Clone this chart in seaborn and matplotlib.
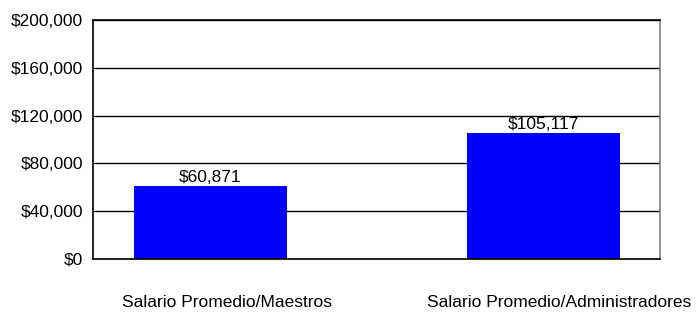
import matplotlib
matplotlib.use("Agg")
import matplotlib.pyplot as plt
import matplotlib.transforms as mtransforms
import seaborn as sns
import pandas as pd

categories = ["Salario Promedio/Maestros", "Salario Promedio/Administradores"]
salaries = [60871, 105117]
y_ticks = [0, 40000, 80000, 120000, 160000, 200000]

df = pd.DataFrame({"categoria": categories, "salario": salaries})

sns.set_style("white")
plt.rcParams["font.family"] = ["Liberation Sans", "DejaVu Sans"]
plt.rcParams["text.color"] = "black"
plt.rcParams["xtick.color"] = "black"
plt.rcParams["ytick.color"] = "black"

fig = plt.figure(figsize=(6.97, 3.15), dpi=100)
ax = fig.add_axes([0.1334, 0.1778, 0.8136, 0.7587])

sns.barplot(data=df, x="categoria", y="salario", color="#0000FF",
            saturation=1, width=0.46, linewidth=0, ax=ax)

ax.set_ylim(0, 200000)
ax.set_xlim(-0.353, 1.35)
ax.set_yticks(y_ticks)
ax.set_yticklabels([f"${v:,}" for v in y_ticks], fontsize=12.5)
ax.yaxis.grid(True, color="black", linewidth=1)
ax.set_axisbelow(True)
ax.set_xlabel("")
ax.set_ylabel("")
ax.tick_params(axis="both", length=0, labelcolor="black")
ax.tick_params(axis="y", pad=7)
ax.tick_params(axis="x", labelsize=12.5, pad=26)

# x labels sit a little to the right of the bars in the original
offset = mtransforms.ScaledTranslation(16 / 100, 0, fig.dpi_scale_trans)
for lbl in ax.get_xticklabels():
    lbl.set_transform(lbl.get_transform() + offset)

for side in ["left", "bottom", "top"]:
    ax.spines[side].set_color("black")
    ax.spines[side].set_linewidth(1.2)
ax.spines["right"].set_color("#808080")
ax.spines["right"].set_linewidth(1.2)

ax.bar_label(ax.containers[0], labels=[f"${v:,}" for v in salaries],
             fontsize=12.5, padding=1, color="black")

fig.savefig("out.png", dpi=100)
